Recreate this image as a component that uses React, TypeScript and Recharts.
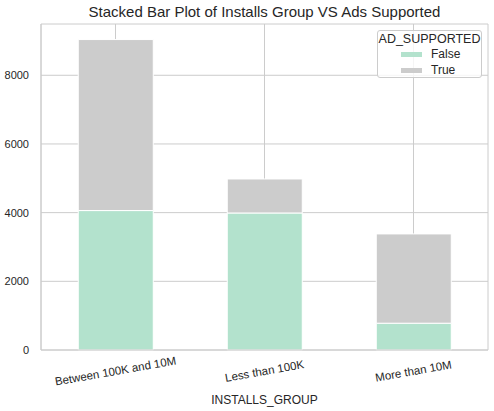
import { BarChart, Bar, XAxis, YAxis, CartesianGrid } from 'recharts'

const categories = ['Between 100K and 10M', 'Less than 100K', 'More than 10M']
const falseCounts = [4060, 3990, 780]
const trueCounts = [4980, 990, 2600]
const yTicks = [0, 2000, 4000, 6000, 8000]
const legendKeys = ['False', 'True'] as const

const data = categories.map((group, i) => ({
  group,
  False: falseCounts[i],
  True: trueCounts[i],
}))

const FONT = '"Liberation Sans", Arial, sans-serif'
const TEXT = '#262626'
const GRID = '#cccccc'
const COLORS = { False: '#b3e2cd', True: '#cccccc' }

function RotatedTick({ x, y, payload }: any) {
  return (
    <text
      x={x}
      y={y + 17}
      textAnchor="middle"
      transform={`rotate(-10, ${x}, ${y + 13})`}
      fontSize={11.5}
      fill={TEXT}
      fontFamily={FONT}
    >
      {payload.value}
    </text>
  )
}

function LegendBox() {
  return (
    <div
      style={{
        position: 'absolute',
        left: 377,
        top: 30,
        width: 105,
        height: 48,
        border: `1px solid ${GRID}`,
        borderRadius: 3,
        background: 'rgba(255,255,255,0.8)',
        fontFamily: FONT,
        color: TEXT,
        boxSizing: 'border-box',
      }}
    >
      <div style={{ position: 'absolute', top: 1, left: 0, width: '100%', textAlign: 'center', fontSize: 12.5 }}>
        AD_SUPPORTED
      </div>
      {legendKeys.map((k, i) => (
        <div key={k}>
          <div
            style={{
              position: 'absolute',
              top: 21 + i * 16,
              left: 23,
              width: 21,
              height: 5,
              background: COLORS[k],
            }}
          />
          <div style={{ position: 'absolute', top: 16 + i * 16, left: 53, fontSize: 12 }}>{k}</div>
        </div>
      ))}
    </div>
  )
}

export default function App() {
  return (
    <div style={{ position: 'absolute', left: 0, top: 0, width: 494, height: 411, background: '#fff' }}>
      <div
        style={{
          position: 'absolute',
          top: 3,
          left: 41,
          width: 447,
          textAlign: 'center',
          fontSize: 15,
          fontFamily: FONT,
          color: TEXT,
        }}
      >
        Stacked Bar Plot of Installs Group VS Ads Supported
      </div>
      <BarChart
        width={494}
        height={411}
        data={data}
        margin={{ top: 24, right: 6, bottom: 0, left: 0 }}
        barCategoryGap="25%"
      >
        <CartesianGrid stroke={GRID} strokeWidth={1} />
        <XAxis
          dataKey="group"
          height={61}
          tickLine={false}
          axisLine={{ stroke: GRID }}
          tick={<RotatedTick />}
          interval={0}
          label={{ value: 'INSTALLS_GROUP', position: 'insideBottom', offset: 7, fontSize: 12, fill: TEXT, fontFamily: FONT }}
        />
        <XAxis xAxisId="top" orientation="top" dataKey="group" height={0} tick={false} tickLine={false} axisLine={{ stroke: GRID }} />
        <YAxis
          width={41}
          domain={[0, 9493]}
          ticks={yTicks}
          tickLine={false}
          axisLine={{ stroke: GRID }}
          tick={{ fontSize: 11, fill: TEXT, fontFamily: FONT }}
          tickMargin={6}
        />
        <YAxis yAxisId="right" orientation="right" width={0} domain={[0, 9493]} tick={false} tickLine={false} axisLine={{ stroke: GRID }} />
        <Bar dataKey="False" stackId="a" fill={COLORS.False} stroke="#fff" strokeWidth={1} isAnimationActive={false} />
        <Bar dataKey="True" stackId="a" fill={COLORS.True} stroke="#fff" strokeWidth={1} isAnimationActive={false} />
      </BarChart>
      <LegendBox />
    </div>
  )
}
